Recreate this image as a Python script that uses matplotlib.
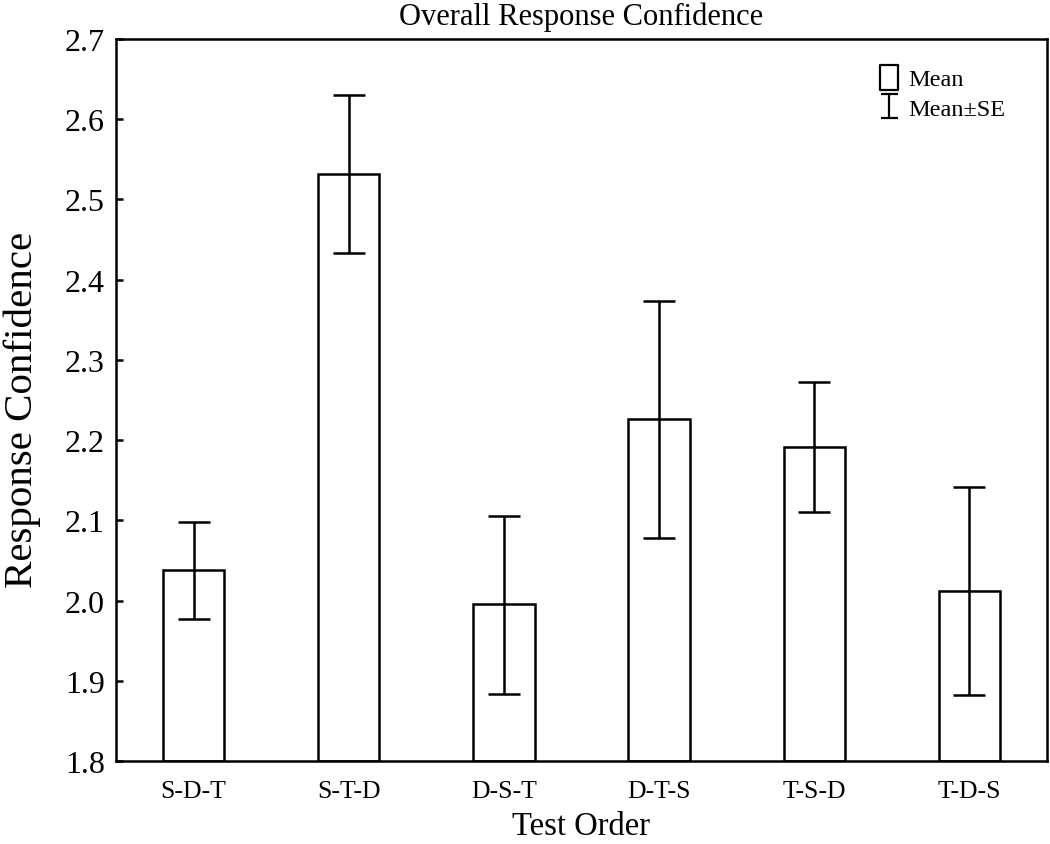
import matplotlib
matplotlib.use("Agg")
import matplotlib.pyplot as plt
from matplotlib.path import Path
from matplotlib.lines import Line2D
import numpy as np

categories = ["S-D-T", "S-T-D", "D-S-T", "D-T-S", "T-S-D", "T-D-S"]
means = [2.038, 2.532, 1.996, 2.226, 2.191, 2.012]
upper = [2.098, 2.630, 2.106, 2.374, 2.272, 2.142]
lower = [1.977, 2.433, 1.884, 2.078, 2.111, 1.882]
yticks = [1.8, 1.9, 2.0, 2.1, 2.2, 2.3, 2.4, 2.5, 2.6, 2.7]

plt.rcParams['font.family'] = ['Liberation Serif', 'DejaVu Serif']

fig = plt.figure(figsize=(10.5, 8.45), dpi=100)
ax = fig.add_axes([116/1050, 1 - 762/845, (1047-116)/1050, (762-40)/845])

x = np.arange(len(categories))
lw = 1.8
ax.bar(x, [m - 1.8 for m in means], bottom=1.8, width=0.395, facecolor='white',
       edgecolor='black', linewidth=lw, zorder=2)
yerr = [np.array(means) - np.array(lower), np.array(upper) - np.array(means)]
ax.errorbar(x, means, yerr=yerr, fmt='none', ecolor='black', elinewidth=lw,
            capsize=11.5, capthick=lw, zorder=3)

ax.set_xlim(-0.5, len(categories) - 0.5)
ax.set_ylim(1.8, 2.7)
ax.set_yticks(yticks)
ax.set_yticklabels([f"{v:.1f}" for v in yticks], fontsize=23)
ax.set_xticks(x)
ax.set_xticklabels(categories, fontsize=18.5)
ax.tick_params(axis='both', direction='in', length=5, width=lw)
ax.tick_params(axis='x', pad=14)
ax.tick_params(axis='y', pad=8)
for s in ax.spines.values():
    s.set_linewidth(lw)

ax.set_title("Overall Response Confidence", fontsize=22, pad=11)
ax.set_xlabel("Test Order", fontsize=23.5, labelpad=6)
ax.set_ylabel("Response Confidence", fontsize=29.5, va='baseline')
ax.yaxis.set_label_coords((32 - 116) / 931, 1 - (410 - 40) / 722)

# legend handles: open rectangle and I-shaped error symbol
rect_path = Path([(-0.36, -0.5), (0.36, -0.5), (0.36, 0.5), (-0.36, 0.5), (-0.36, -0.5)],
                 [Path.MOVETO, Path.LINETO, Path.LINETO, Path.LINETO, Path.CLOSEPOLY])
i_path = Path([(-0.36, -0.5), (0.36, -0.5), (0, -0.5), (0, 0.5), (-0.36, 0.5), (0.36, 0.5)],
              [Path.MOVETO, Path.LINETO, Path.MOVETO, Path.LINETO, Path.MOVETO, Path.LINETO])
h1 = Line2D([], [], linestyle='none', marker=rect_path, markersize=18,
            markerfacecolor='none', markeredgecolor='black', markeredgewidth=1.6)
h2 = Line2D([], [], linestyle='none', marker=i_path, markersize=17,
            markerfacecolor='none', markeredgecolor='black', markeredgewidth=1.6)
leg = ax.legend([h1, h2], ['Mean', 'Mean\u00b1SE'], loc='upper left', frameon=False,
                fontsize=17.5, handlelength=0.9, handletextpad=0.35, labelspacing=0.31,
                borderpad=0, borderaxespad=0,
                bbox_to_anchor=((878 - 116) / 931, 1 - (69 - 40) / 722))

fig.savefig("out.png", dpi=100)
